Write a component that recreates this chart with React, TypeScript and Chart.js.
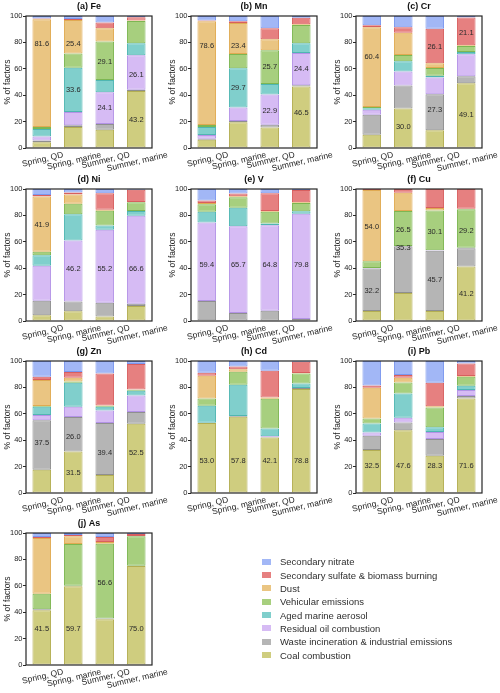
import React, { useEffect, useRef } from 'react';
import { Chart, registerables } from 'chart.js';

Chart.register(...registerables);

const FONT = '"Liberation Sans", Arial, Helvetica, sans-serif';

const CATEGORIES = ['Spring, QD', 'Spring, marine', 'Summer, QD', 'Summer, marine'];
const SOURCES = [
  'Coal combustion',
  'Waste incineration & industrial emissions',
  'Residual oil combustion',
  'Aged marine aerosol',
  'Vehicular emissions',
  'Dust',
  'Secondary sulfate & biomass burning',
  'Secondary nitrate',
];
const FILLS = ['#cfcd7f', '#b5b5b5', '#d6bbf4', '#80cfcc', '#a7cf7e', '#eac582', '#e68080', '#a2b7f6'];
const BORDERS = ['#b3ae52', '#8f8f8f', '#b393e6', '#4fb6b2', '#7db652', '#e0aa52', '#d85f5f', '#7b97ee'];
const Y_TICKS = [0, 20, 40, 60, 80, 100];

// values per category: [coal, waste, residual oil, marine, vehicular, dust, sulfate, nitrate]
const FE = [
  [4.3, 1.3, 3.2, 5.6, 1.6, 81.6, 0.6, 1.8],
  [16.0, 1.2, 10.0, 33.6, 10.8, 25.4, 0.8, 2.2],
  [13.9, 4.2, 24.1, 9.4, 29.1, 10.0, 4.3, 5.0],
  [43.2, 1.0, 26.1, 9.0, 16.9, 0.3, 2.5, 1.0],
];
const MN = [
  [6.3, 0.7, 2.8, 6.1, 1.5, 78.6, 0.5, 3.5],
  [19.6, 0.8, 10.3, 29.7, 10.9, 23.4, 1.3, 4.0],
  [15.6, 2.0, 22.9, 7.9, 25.7, 8.3, 8.3, 9.3],
  [46.5, 1.0, 24.4, 7.4, 13.9, 0.5, 5.0, 1.3],
];
const CR = [
  [10.1, 15.1, 3.8, 1.2, 0.8, 60.4, 1.5, 7.1],
  [30.0, 17.4, 10.5, 7.8, 4.8, 16.9, 4.0, 8.6],
  [13.4, 27.3, 12.7, 1.3, 6.0, 3.5, 26.1, 9.7],
  [49.1, 5.3, 16.6, 1.7, 4.6, 0.5, 21.1, 1.1],
];
const NI = [
  [4.3, 11.1, 26.4, 8.1, 2.5, 41.9, 1.2, 4.5],
  [7.3, 7.4, 46.2, 19.9, 8.1, 7.0, 1.5, 2.6],
  [3.5, 10.4, 55.2, 3.3, 11.1, 0.8, 12.4, 3.3],
  [11.4, 1.7, 66.6, 3.6, 6.6, 0.3, 9.3, 0.5],
];
const V = [
  [0.5, 14.7, 59.4, 8.2, 5.6, 1.0, 1.8, 8.8],
  [0.3, 5.7, 65.7, 14.1, 7.9, 0.8, 2.0, 3.5],
  [0.3, 7.4, 64.8, 1.3, 9.0, 0.6, 13.3, 3.3],
  [0.3, 1.2, 79.8, 1.8, 6.3, 0.5, 9.3, 0.8],
];
const CU = [
  [7.6, 32.2, 0.3, 0, 5.2, 54.0, 0.7, 0],
  [21.3, 35.3, 0.3, 0, 26.5, 13.8, 2.8, 0],
  [7.6, 45.7, 0.3, 0, 30.1, 2.0, 14.3, 0],
  [41.2, 14.0, 0.3, 0, 29.2, 0.3, 15.0, 0],
];
const ZN = [
  [17.7, 37.5, 3.8, 6.3, 0.7, 19.6, 2.4, 12.0],
  [31.5, 26.0, 7.8, 18.2, 1.0, 2.8, 4.3, 8.4],
  [13.7, 39.4, 9.4, 2.8, 0.7, 0.3, 24.3, 9.4],
  [52.5, 8.8, 12.6, 3.6, 0.8, 0.2, 19.2, 2.3],
];
const CD = [
  [53.0, 0.3, 0, 12.8, 5.5, 17.3, 2.2, 8.9],
  [57.8, 0.5, 0, 23.7, 9.9, 1.8, 2.1, 4.2],
  [42.1, 0.3, 0.5, 6.0, 22.5, 1.0, 20.3, 7.3],
  [78.8, 0.8, 0, 3.4, 7.6, 0.3, 8.5, 0.6],
];
const PB = [
  [32.5, 10.8, 2.5, 6.9, 3.8, 23.2, 1.8, 18.5],
  [47.6, 5.8, 3.6, 18.4, 8.4, 3.5, 2.0, 10.7],
  [28.3, 12.7, 5.3, 3.6, 14.9, 1.0, 17.7, 16.5],
  [71.6, 1.8, 4.6, 3.3, 6.8, 0.5, 9.6, 1.8],
];
const AS = [
  [41.5, 0.8, 0, 0, 11.6, 42.3, 0.8, 3.0],
  [59.7, 0.3, 0, 0, 31.6, 5.9, 1.0, 1.5],
  [34.7, 0.6, 0, 0, 56.6, 1.3, 3.8, 3.0],
  [75.0, 0.2, 0, 0, 22.3, 0.3, 1.5, 0.7],
];

// labelled segments: [category index, source index, label height in % units]
const FE_LABELS = [[0, 5, 79], [1, 5, 79], [1, 3, 44], [2, 4, 65], [2, 2, 30.5], [3, 2, 55.5], [3, 0, 21]];
const MN_LABELS = [[0, 5, 77], [1, 5, 77], [1, 3, 45.8], [2, 4, 61.5], [2, 2, 27.7], [3, 2, 60], [3, 0, 26.4]];
const CR_LABELS = [[0, 5, 68.8], [1, 0, 15.6], [2, 6, 76.3], [2, 1, 29], [3, 6, 86.9], [3, 0, 25.2]];
const NI_LABELS = [[0, 5, 72.7], [1, 2, 39.7], [2, 2, 39.7], [3, 2, 39.7]];
const V_LABELS = [[0, 2, 42.8], [1, 2, 42.8], [2, 2, 42.8], [3, 2, 42.8]];
const CU_LABELS = [[0, 5, 70.9], [0, 1, 22.8], [1, 4, 68.9], [1, 1, 55.7], [2, 4, 67.6], [2, 1, 31.2], [3, 4, 68.6], [3, 0, 20.8]];
const ZN_LABELS = [[0, 1, 38], [1, 1, 42.5], [1, 0, 15.4], [2, 1, 30.4], [3, 0, 30.4]];
const CD_LABELS = [[0, 0, 24.3], [1, 0, 24.3], [2, 0, 24.3], [3, 0, 24.3]];
const PB_LABELS = [[0, 0, 20.5], [1, 0, 20.5], [2, 0, 20.5], [3, 0, 20.5]];
const AS_LABELS = [[0, 0, 27.3], [1, 0, 27.3], [2, 4, 62.5], [3, 0, 27.3]];

const TITLES = ['(a) Fe', '(b) Mn', '(c) Cr', '(d) Ni', '(e) V', '(f) Cu', '(g) Zn', '(h) Cd', '(i) Pb', '(j) As'];
const VALUES = [FE, MN, CR, NI, V, CU, ZN, CD, PB, AS];
const LABELS = [FE_LABELS, MN_LABELS, CR_LABELS, NI_LABELS, V_LABELS, CU_LABELS, ZN_LABELS, CD_LABELS, PB_LABELS, AS_LABELS];

const CANVAS_W = 170;
const CANVAS_H = 172;
const COL_X = [0, 165, 330];
const ROW_Y = [0, 173, 345, 517];

const framePlugin = {
  id: 'frame',
  afterDatasetsDraw(chart: any) {
    const { ctx, chartArea } = chart;
    ctx.save();
    ctx.strokeStyle = '#262626';
    ctx.lineWidth = 1.2;
    ctx.strokeRect(chartArea.left, chartArea.top, chartArea.right - chartArea.left, chartArea.bottom - chartArea.top);
    ctx.restore();
  },
};

const xLabelPlugin = {
  id: 'xlabels',
  afterDraw(chart: any) {
    const { ctx, chartArea } = chart;
    const x = chart.scales.x;
    const ang = (13 * Math.PI) / 180;
    ctx.save();
    ctx.font = `8.5px ${FONT}`;
    ctx.fillStyle = '#1e1e1e';
    ctx.textAlign = 'center';
    ctx.textBaseline = 'middle';
    CATEGORIES.forEach((c, i) => {
      const w = ctx.measureText(c).width;
      const px = x.getPixelForValue(i) + 1;
      const py = chartArea.bottom + 2.5 + (w / 2) * Math.sin(ang) + 4.5 * Math.cos(ang);
      ctx.save();
      ctx.translate(px, py);
      ctx.rotate(-ang);
      ctx.fillText(c, 0, 0);
      ctx.restore();
    });
    ctx.restore();
  },
};

function makeValuePlugin(values: number[][], labels: number[][]) {
  return {
    id: 'valuelabels',
    afterDatasetsDraw(chart: any) {
      const { ctx } = chart;
      const x = chart.scales.x;
      const y = chart.scales.y;
      ctx.save();
      ctx.font = `7.5px ${FONT}`;
      ctx.fillStyle = '#2a2a2a';
      ctx.textAlign = 'center';
      ctx.textBaseline = 'middle';
      labels.forEach(([ci, si, at]) => {
        ctx.fillText(values[ci][si].toFixed(1), x.getPixelForValue(ci), y.getPixelForValue(at));
      });
      ctx.restore();
    },
  };
}

function Panel({ index }: { index: number }) {
  const ref = useRef<HTMLCanvasElement | null>(null);
  useEffect(() => {
    const values = VALUES[index];
    const datasets = SOURCES.map((s, si) => ({
      label: s,
      data: values.map((row) => row[si]),
      backgroundColor: FILLS[si],
      borderColor: BORDERS[si],
      borderWidth: 1,
      borderSkipped: false as any,
      barPercentage: 0.59,
      categoryPercentage: 1,
    }));
    const chart = new Chart(ref.current as HTMLCanvasElement, {
      type: 'bar',
      data: { labels: CATEGORIES, datasets },
      options: {
        animation: false,
        responsive: false,
        devicePixelRatio: 1,
        layout: { padding: { left: 0, right: 18, top: 0, bottom: 0 } },
        plugins: {
          legend: { display: false },
          tooltip: { enabled: false },
          title: {
            display: true,
            text: TITLES[index],
            fullSize: false,
            color: '#111',
            font: { family: FONT, size: 9, weight: 'bold', lineHeight: '11px' } as any,
            padding: { top: 1, bottom: 4 },
          },
        },
        scales: {
          x: {
            stacked: true,
            grid: { display: false },
            border: { display: false },
            ticks: { display: false },
            afterFit: (s: any) => {
              s.height = 24;
            },
          },
          y: {
            stacked: true,
            min: 0,
            max: 100,
            afterBuildTicks: (s: any) => {
              s.ticks = Y_TICKS.map((v) => ({ value: v }));
            },
            ticks: { font: { family: FONT, size: 7.5 }, color: '#1e1e1e', padding: 0.5 },
            grid: { drawOnChartArea: false, drawTicks: true, tickLength: 3, color: '#262626', lineWidth: 1 },
            border: { display: false },
            title: {
              display: true,
              text: '% of factors',
              color: '#1e1e1e',
              font: { family: FONT, size: 8.5 },
              padding: { top: 3, bottom: 0 },
            },
            afterFit: (s: any) => {
              s.width = 26;
            },
          },
        },
      },
      plugins: [framePlugin, xLabelPlugin, makeValuePlugin(values, LABELS[index])],
    });
    return () => chart.destroy();
  }, [index]);
  const left = COL_X[index % 3];
  const top = ROW_Y[Math.floor(index / 3)];
  return (
    <canvas
      ref={ref}
      width={CANVAS_W}
      height={CANVAS_H}
      style={{ position: 'absolute', left, top, width: CANVAS_W, height: CANVAS_H }}
    />
  );
}

function Legend() {
  const order = [7, 6, 5, 4, 3, 2, 1, 0];
  return (
    <div>
      {order.map((si, i) => {
        const cy = 561.7 + i * 13.35;
        return (
          <React.Fragment key={si}>
            <div
              style={{
                position: 'absolute',
                left: 262,
                top: cy - 3,
                width: 9,
                height: 6,
                background: FILLS[si],
              }}
            />
            <div
              style={{
                position: 'absolute',
                left: 280,
                top: cy - 6.5,
                height: 13,
                lineHeight: '13px',
                fontFamily: FONT,
                fontSize: 9.5,
                color: '#2e2e2e',
                whiteSpace: 'nowrap',
              }}
            >
              {SOURCES[si]}
            </div>
          </React.Fragment>
        );
      })}
    </div>
  );
}

export default function App() {
  return (
    <div style={{ position: 'absolute', left: 0, top: 0, width: 500, height: 693, background: '#fff', overflow: 'hidden' }}>
      {TITLES.map((_, i) => (
        <Panel key={i} index={i} />
      ))}
      <Legend />
    </div>
  );
}
